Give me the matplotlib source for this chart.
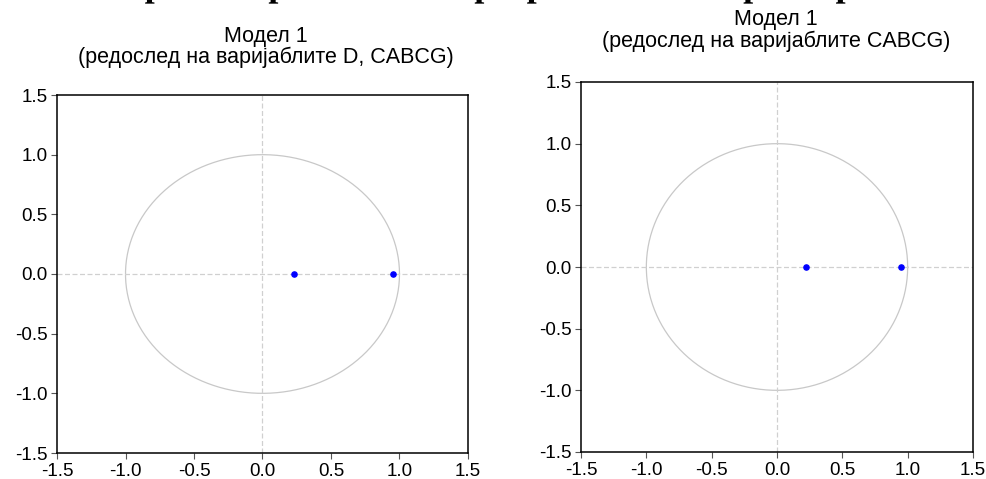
import numpy as np
import matplotlib
matplotlib.use("Agg")
import matplotlib.pyplot as plt
from matplotlib.textpath import TextPath
from matplotlib.font_manager import FontProperties
from matplotlib.patches import PathPatch
from matplotlib.transforms import Affine2D

# -----------------------------------
# Data
# -----------------------------------

roots_left_re = [0.23, 0.95]
roots_left_im = [0.0, 0.0]

roots_right_re = [0.22, 0.95]
roots_right_im = [0.0, 0.0]

ticks = [-1.5, -1.0, -0.5, 0.0, 0.5, 1.0, 1.5]
tick_labels = ["-1.5", "-1.0", "-0.5", "0.0", "0.5", "1.0", "1.5"]

title_left = "Модел 1\n(редослед на варијаблите D, CABCG)"
title_right = "Модел 1\n(редослед на варијаблите CABCG)"
main_title = "Слика бр. 1: Инверзни корени на авторегресивниот карактеристичен полином"

plt.rcParams["font.family"] = ["Liberation Sans", "DejaVu Sans"]

fig = plt.figure(figsize=(9.87, 4.79), dpi=100)

W, H = 987, 479


def px_axes(x0, y0, x1, y1):
    return fig.add_axes([x0 / W, 1 - y1 / H, (x1 - x0) / W, (y1 - y0) / H])


def draw_panel(ax, re, im):
    t = np.linspace(0, 2 * np.pi, 400)
    ax.plot(np.cos(t), np.sin(t), color="#c8c8c8", lw=0.9)
    ax.axhline(0, color="#d0d0d0", lw=0.9, ls=(0, (4, 2)))
    ax.axvline(0, color="#d0d0d0", lw=0.9, ls=(0, (4, 2)))
    ax.scatter(re, im, s=14, color="#0000ff", zorder=3)
    ax.set_xlim(-1.5, 1.5)
    ax.set_ylim(-1.5, 1.5)
    ax.set_xticks(ticks)
    ax.set_yticks(ticks)
    ax.set_xticklabels(tick_labels)
    ax.set_yticklabels(tick_labels)
    ax.tick_params(direction="out", length=4, width=0.8, color="#555555",
                   labelsize=13.5, pad=3)
    for s in ax.spines.values():
        s.set_linewidth(1.1)
        s.set_color("black")


ax1 = px_axes(57, 95, 468, 453)
draw_panel(ax1, roots_left_re, roots_left_im)

ax2 = px_axes(581, 82, 973, 452)
draw_panel(ax2, roots_right_re, roots_right_im)

# panel titles
fig.text(266 / W, 1 - 47 / H, title_left, ha="center", va="center",
         fontsize=15.5, linespacing=1.0)
fig.text(776 / W, 1 - 30.5 / H, title_right, ha="center", va="center",
         fontsize=15.5, linespacing=1.0)

# main title, mostly cut off at the top edge of the picture
fp = FontProperties(family="Liberation Serif", weight="bold")
tp = TextPath((0, 0), main_title, size=36, prop=fp)
tw = tp.get_extents().width
shift = Affine2D().translate(W / 2 - tw / 2, H + 4)
title_patch = PathPatch(tp, transform=shift, facecolor="black",
                        edgecolor="none")
fig.add_artist(title_patch)

fig.savefig("out.png", dpi=100)
